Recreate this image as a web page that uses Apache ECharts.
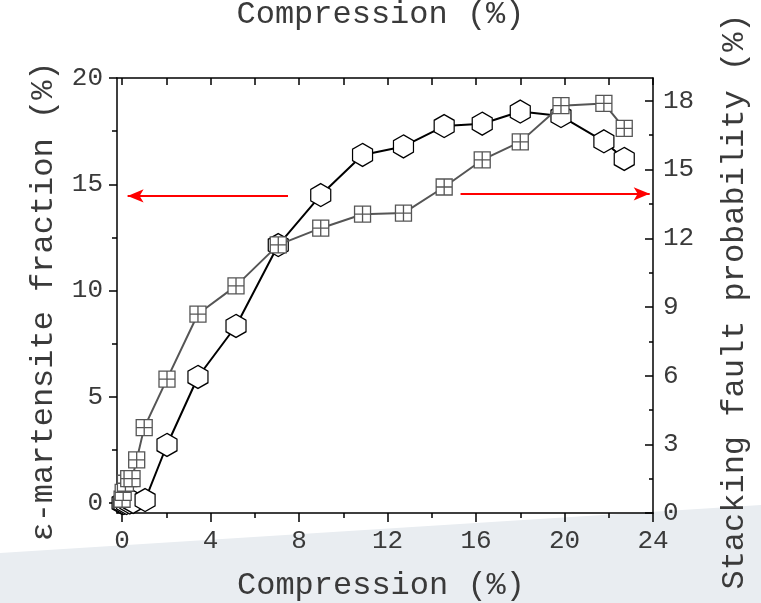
<!DOCTYPE html>
<html>
<head>
<meta charset="utf-8">
<script src="https://cdn.jsdelivr.net/npm/echarts@6/dist/echarts.min.js"></script>
<style>html,body{margin:0;padding:0;background:#fff;}#c{width:761px;height:603px;}</style>
</head>
<body>
<div id="c"></div>
<script>
// ---- data ----
const hexX = [0, 0.08, 0.2, 0.35, 0.5, 1.04, 2.03, 3.43, 5.15, 7.06, 8.98, 10.87, 12.72, 14.56, 16.28, 18.0, 19.84, 21.78, 22.7];
const hexY = [0.0, 0.0, 0.0, 0.02, 0.05, 0.14, 2.73, 5.93, 8.33, 12.14, 14.49, 16.38, 16.78, 17.74, 17.85, 18.42, 18.21, 17.02, 16.19];
const sqX = [0, 0.05, 0.15, 0.3, 0.45, 0.66, 1.0, 2.03, 3.43, 5.15, 7.06, 8.98, 10.87, 12.72, 14.56, 16.28, 18.0, 19.84, 21.78, 22.7];
const sqY = [0.6, 0.9, 1.3, 1.5, 1.5, 2.32, 3.73, 5.85, 8.69, 9.92, 11.71, 12.44, 13.05, 13.1, 14.24, 15.42, 16.21, 17.79, 17.89, 16.8];

const xMajor = [0, 4, 8, 12, 16, 20, 24];
const xMinor = [2, 6, 10, 14, 18, 22];
const xTop = [0, 2, 4, 6, 8, 10, 12, 14, 16, 18, 20, 22, 24];
const yLeftMajor = [0, 5, 10, 15, 20];
const yLeftMinor = [2.5, 7.5, 12.5, 17.5];
const yRightMajor = [0, 3, 6, 9, 12, 15, 18];
const yRightMinor = [1.5, 4.5, 7.5, 10.5, 13.5, 16.5];

const titleText = 'Compression (%)';
const xName = 'Compression (%)';
const yLeftName = 'ε-martensite fraction (%)';
const yRightName = 'Stacking fault probability (%)';

// arrows (annotation) in data coordinates
const leftArrow = { from: [7.5, 14.45], to: [0.25, 14.45] };
const rightArrow = { from: [15.3, 13.94], to: [23.85, 13.94] };

// ---- style ----
const FONT = 'Liberation Mono';
const TXT = '#3a3a3a';
const XMIN = -0.23, XMAX = 24, YLMIN = -0.47, YLMAX = 20, YRMIN = 0, YRMAX = 19;
const lineSt = { color: '#000', width: 1.5 };
const hexPath = 'path://M0,-1 L0.866,-0.5 L0.866,0.5 L0,1 L-0.866,0.5 L-0.866,-0.5 Z';
const sqPath = 'path://M0,0 L10,0 L10,10 L0,10 Z M5,0 L5,10 M0,5 L10,5';

const chart = echarts.init(document.getElementById('c'), null, { renderer: 'canvas' });
const lab = { fontFamily: FONT, fontSize: 26, color: TXT };
const line = (show) => ({ show: show, onZero: false, lineStyle: lineSt });

chart.setOption({
  animation: false,
  backgroundColor: '#fff',
  graphic: [{
    type: 'polygon', z: -10, silent: true,
    shape: { points: [[0, 553], [761, 505], [761, 603], [0, 603]] },
    style: { fill: '#e9edf1' }
  }],
  title: {
    text: titleText, left: 'center', top: -1, padding: 0,
    textStyle: { fontFamily: FONT, fontSize: 32, fontWeight: 'normal', color: TXT }
  },
  grid: { left: 117, right: 108, top: 78, bottom: 90, containLabel: false, outerBoundsMode: 'none' },
  xAxis: [
    {
      type: 'value', position: 'bottom', min: XMIN, max: XMAX,
      axisLine: line(true),
      axisTick: { show: true, inside: false, length: 9, customValues: xMajor, lineStyle: lineSt },
      axisLabel: Object.assign({ customValues: xMajor, margin: 15 }, lab),
      splitLine: { show: false },
      name: xName, nameLocation: 'middle', nameGap: 57,
      nameTextStyle: { fontFamily: FONT, fontSize: 32, color: TXT, padding: [0, 8, 0, 0] }
    },
    {
      type: 'value', position: 'bottom', min: XMIN, max: XMAX,
      axisLine: line(false),
      axisTick: { show: true, inside: false, length: 5, customValues: xMinor, lineStyle: lineSt },
      axisLabel: { show: false }, splitLine: { show: false }
    },
    {
      type: 'value', position: 'top', min: XMIN, max: XMAX,
      axisLine: line(true),
      axisTick: { show: true, inside: true, length: 7, customValues: xTop, lineStyle: lineSt },
      axisLabel: { show: false }, splitLine: { show: false }
    }
  ],
  yAxis: [
    {
      type: 'value', position: 'left', min: YLMIN, max: YLMAX,
      axisLine: line(true),
      axisTick: { show: true, inside: false, length: 8, customValues: yLeftMajor, lineStyle: lineSt },
      axisLabel: Object.assign({ customValues: yLeftMajor, margin: 14 }, lab),
      splitLine: { show: false },
      name: yLeftName, nameLocation: 'middle', nameGap: 57, nameRotate: 90,
      nameTextStyle: { fontFamily: FONT, fontSize: 32, color: TXT, padding: [0, 12, 0, 0] }
    },
    {
      type: 'value', position: 'right', min: YRMIN, max: YRMAX,
      axisLine: line(true),
      axisTick: { show: true, inside: true, length: 8, customValues: yRightMajor, lineStyle: lineSt },
      axisLabel: Object.assign({ customValues: yRightMajor, margin: 10 }, lab),
      splitLine: { show: false },
      name: yRightName, nameLocation: 'middle', nameGap: 66, nameRotate: 90,
      nameTextStyle: { fontFamily: FONT, fontSize: 32, color: TXT, padding: [0, 12, 0, 0] }
    },
    {
      type: 'value', position: 'left', min: YLMIN, max: YLMAX,
      axisLine: line(false),
      axisTick: { show: true, inside: false, length: 5, customValues: yLeftMinor, lineStyle: lineSt },
      axisLabel: { show: false }, splitLine: { show: false }
    },
    {
      type: 'value', position: 'right', min: YRMIN, max: YRMAX,
      axisLine: line(false),
      axisTick: { show: true, inside: true, length: 4, customValues: yRightMinor, lineStyle: lineSt },
      axisLabel: { show: false }, splitLine: { show: false }
    }
  ],
  series: [
    {
      name: 'hex', type: 'line', xAxisIndex: 0, yAxisIndex: 0, clip: false,
      data: hexX.map((x, i) => [x, hexY[i]]),
      symbol: hexPath, symbolSize: [20, 23],
      lineStyle: { color: '#000', width: 2 },
      itemStyle: { color: '#fff', borderColor: '#000', borderWidth: 1.3 },
      z: 2,
      markLine: {
        silent: true, symbol: ['none', 'arrow'], symbolSize: [10, 16],
        label: { show: false },
        lineStyle: { color: '#ff0000', width: 2, type: 'solid' },
        data: [[{ coord: leftArrow.from }, { coord: leftArrow.to }]]
      }
    },
    {
      name: 'sq', type: 'line', xAxisIndex: 0, yAxisIndex: 1, clip: false,
      data: sqX.map((x, i) => [x, sqY[i]]),
      symbol: sqPath, symbolSize: 16,
      lineStyle: { color: '#555', width: 2 },
      itemStyle: { color: '#fff', borderColor: '#555', borderWidth: 1.3 },
      z: 3,
      markLine: {
        silent: true, symbol: ['none', 'arrow'], symbolSize: [10, 16],
        label: { show: false },
        lineStyle: { color: '#ff0000', width: 2, type: 'solid' },
        data: [[{ coord: rightArrow.from }, { coord: rightArrow.to }]]
      }
    }
  ]
});
</script>
</body>
</html>
